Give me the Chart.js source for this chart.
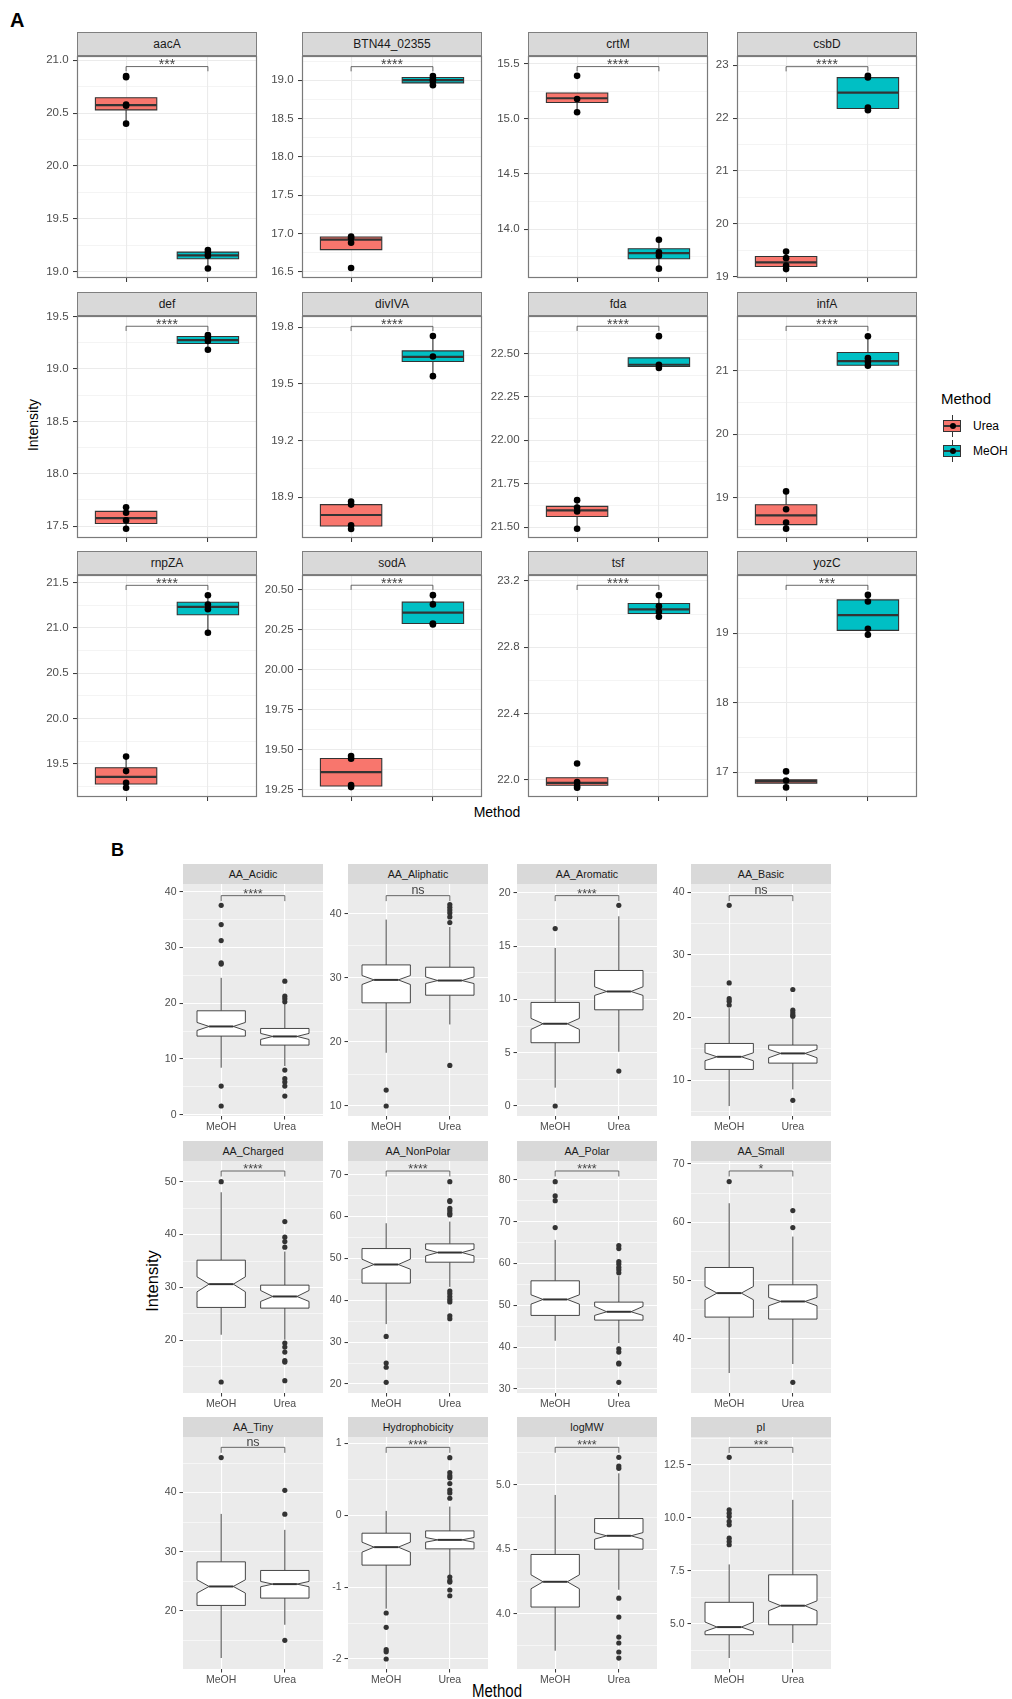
<!DOCTYPE html>
<html lang="en">
<head>
<meta charset="UTF-8">
<title>Intensity by extraction method</title>
<script src="https://cdn.jsdelivr.net/npm/chart.js"></script>
<style>
  body { margin: 0; background: #fff; font-family: 'Liberation Sans', Arial, sans-serif; }
  #page { position: relative; width: 1012px; height: 1699px; overflow: hidden; }
  .strip { position: absolute; box-sizing: border-box; display: flex; align-items: center; justify-content: center; background: #d9d9d9; color: #1a1a1a; }
  .stripA { border: 1px solid #7f7f7f; font-size: 12px; }
  .stripB { font-size: 10.7px; }
  .lbl { position: absolute; white-space: nowrap; color: #000; }
  .abs { position: absolute; box-sizing: border-box; }
</style>
</head>
<body>
<div id="page">
  <div class="lbl" style="left:10px;top:9px;font-size:20px;font-weight:bold;">A</div>
  <div class="lbl" style="left:111px;top:840px;font-size:18px;font-weight:bold;">B</div>
  <div class="lbl" style="left:33px;top:425px;font-size:14px;transform:translate(-50%,-50%) rotate(-90deg);">Intensity</div>
  <div class="lbl" style="left:497px;top:812px;font-size:14px;transform:translate(-50%,-50%);">Method</div>
  <div class="lbl" style="left:152px;top:1281px;font-size:16.5px;transform:translate(-50%,-50%) rotate(-90deg);">Intensity</div>
  <div class="lbl" style="left:497px;top:1690px;font-size:15px;transform:translate(-50%,-50%) scaleY(1.2);">Method</div>
</div>

<script>
// ---------- Panel A: individual proteins ----------
const genesA = ['aacA', 'BTN44_02355', 'crtM', 'csbD', 'def', 'divIVA', 'fda', 'infA', 'rnpZA', 'sodA', 'tsf', 'yozC'];
const methodsA = ['Urea', 'MeOH'];
const sigA = ['***', '****', '****', '****', '****', '****', '****', '****', '****', '****', '****', '***'];
const yTickLabelsA = [
    ['19.0', '19.5', '20.0', '20.5', '21.0'],
    ['16.5', '17.0', '17.5', '18.0', '18.5', '19.0'],
    ['14.0', '14.5', '15.0', '15.5'],
    ['19', '20', '21', '22', '23'],
    ['17.5', '18.0', '18.5', '19.0', '19.5'],
    ['18.9', '19.2', '19.5', '19.8'],
    ['21.50', '21.75', '22.00', '22.25', '22.50'],
    ['19', '20', '21'],
    ['19.5', '20.0', '20.5', '21.0', '21.5'],
    ['19.25', '19.50', '19.75', '20.00', '20.25', '20.50'],
    ['22.0', '22.4', '22.8', '23.2'],
    ['17', '18', '19']
];
const yLimitsA = [
    [18.94, 21.04], [16.42, 19.316], [13.557, 15.57], [18.97, 23.176],
    [17.386, 19.506], [18.683, 19.86], [21.437, 22.716], [18.366, 21.864],
    [19.134, 21.584], [19.204, 20.593], [21.896, 23.236], [16.642, 19.835]
];
// [lower whisker, Q1, median, Q3, upper whisker]
const ureaBoxA = [
    [20.40, 20.53, 20.576, 20.645, 20.645], [16.79, 16.79, 16.92, 16.955, 16.955],
    [15.06, 15.148, 15.187, 15.235, 15.235], [19.139, 19.189, 19.265, 19.378, 19.47],
    [17.475, 17.525, 17.576, 17.64, 17.68], [18.731, 18.747, 18.805, 18.86, 18.876],
    [21.49, 21.561, 21.596, 21.619, 21.655], [18.513, 18.576, 18.723, 18.89, 19.1],
    [19.236, 19.277, 19.357, 19.456, 19.58], [19.266, 19.273, 19.36, 19.445, 19.46],
    [21.952, 21.967, 21.981, 22.012, 22.012], [16.78, 16.842, 16.871, 16.89, 16.89]
];
const meohBoxA = [
    [19.03, 19.122, 19.154, 19.185, 19.204], [18.935, 18.965, 19.0, 19.035, 19.056],
    [13.642, 13.732, 13.783, 13.822, 13.904], [22.15, 22.181, 22.483, 22.767, 22.8],
    [19.183, 19.243, 19.275, 19.31, 19.325], [19.541, 19.619, 19.643, 19.675, 19.754],
    [22.416, 22.425, 22.435, 22.475, 22.475], [21.08, 21.089, 21.152, 21.288, 21.545],
    [20.947, 21.145, 21.233, 21.284, 21.361], [20.284, 20.29, 20.357, 20.423, 20.467],
    [22.984, 23.004, 23.028, 23.064, 23.114], [18.976, 19.038, 19.258, 19.477, 19.549]
];
const ureaPointsA = [
    [20.85, 20.84, 20.58, 20.57, 20.40], [16.96, 16.94, 16.88, 16.55],
    [15.39, 15.18, 15.06], [19.47, 19.346, 19.208, 19.139],
    [17.68, 17.627, 17.554, 17.475], [18.876, 18.86, 18.75, 18.731],
    [21.655, 21.613, 21.59, 21.49], [19.1, 18.82, 18.61, 18.513],
    [19.58, 19.42, 19.29, 19.236], [19.46, 19.443, 19.279, 19.266],
    [22.098, 21.986, 21.962, 21.952], [17.01, 16.88, 16.78]
];
const meohPointsA = [
    [19.204, 19.18, 19.15, 19.03], [19.056, 19.017, 18.99, 18.935],
    [13.904, 13.79, 13.759, 13.642], [22.8, 22.77, 22.2, 22.15],
    [19.325, 19.306, 19.268, 19.183], [19.754, 19.645, 19.541],
    [22.60, 22.435, 22.416], [21.545, 21.2, 21.14, 21.08],
    [21.361, 21.258, 21.207, 20.947], [20.467, 20.409, 20.29, 20.284],
    [23.114, 23.048, 23.014, 22.984], [19.549, 19.453, 19.062, 18.976]
];
const bracketA = [20.94, 19.177, 15.474, 22.974, 19.408, 19.805, 22.657, 21.702, 21.47, 20.529, 23.174, 19.687];

// ---------- Panel B: protein properties ----------
const featuresB = ['AA_Acidic', 'AA_Aliphatic', 'AA_Aromatic', 'AA_Basic', 'AA_Charged', 'AA_NonPolar',
    'AA_Polar', 'AA_Small', 'AA_Tiny', 'Hydrophobicity', 'logMW', 'pI'];
const groupsB = ['MeOH', 'Urea'];
const sigB = ['****', 'ns', '****', 'ns', '****', '****', '****', '*', 'ns', '****', '****', '***'];
const yTickLabelsB = [
    ['0', '10', '20', '30', '40'], ['10', '20', '30', '40'], ['0', '5', '10', '15', '20'], ['10', '20', '30', '40'],
    ['20', '30', '40', '50'], ['20', '30', '40', '50', '60', '70'], ['30', '40', '50', '60', '70', '80'], ['40', '50', '60', '70'],
    ['20', '30', '40'], ['-2', '-1', '0', '1'], ['4.0', '4.5', '5.0'], ['5.0', '7.5', '10.0', '12.5']
];
const yLimitsB = [
    [-0.24, 41.37], [8.44, 44.68], [-0.94, 20.84], [4.26, 41.33],
    [10.06, 53.9], [17.85, 73.26], [29.04, 84.54], [30.75, 70.51],
    [10.14, 49.41], [-2.139, 1.088], [3.571, 5.372], [2.86, 13.82]
];
// [lower whisker, Q1, notch low, median, notch high, Q3, upper whisker]
const meohBoxB = [
    [8.42, 14.09, 15.1, 15.82, 16.54, 18.63, 24.54], [18.32, 26.12, 28.98, 29.70, 30.38, 32.04, 39.12],
    [1.72, 5.94, 7.19, 7.72, 8.22, 9.72, 14.84], [5.85, 11.7, 13.09, 13.72, 14.36, 15.85, 21.5],
    [21.07, 26.23, 29.18, 30.63, 32.01, 35.16, 47.99], [34.31, 44.09, 47.42, 48.54, 49.81, 52.35, 58.39],
    [41.54, 47.6, 50.3, 51.42, 52.53, 55.88, 65.67], [34.18, 43.76, 46.73, 47.87, 49.0, 52.26, 63.27],
    [12.0, 20.9, 22.99, 24.11, 25.24, 28.28, 36.39], [-1.3, -0.694, -0.514, -0.444, -0.375, -0.25, 0.06],
    [3.713, 4.052, 4.194, 4.248, 4.302, 4.46, 4.922], [3.38, 4.48, 4.64, 4.84, 5.08, 6.01, 7.8]
];
const ureaBoxB = [
    [8.72, 12.48, 13.49, 14.03, 14.57, 15.46, 19.82], [22.74, 27.31, 29.13, 29.6, 30.17, 31.68, 37.97],
    [5.09, 9.03, 10.38, 10.75, 11.19, 12.72, 17.81], [8.51, 12.71, 13.56, 14.26, 14.9, 15.59, 19.9],
    [20.13, 26.1, 27.36, 28.3, 29.43, 30.44, 36.79], [43.2, 49.09, 50.6, 51.4, 52.19, 53.47, 58.79],
    [40.99, 46.48, 47.6, 48.47, 49.75, 50.78, 57.0], [35.72, 43.42, 45.7, 46.44, 47.13, 49.29, 57.56],
    [17.63, 22.14, 24.06, 24.51, 24.96, 26.82, 33.69], [-0.838, -0.468, -0.375, -0.343, -0.31, -0.218, 0.12],
    [4.186, 4.501, 4.579, 4.605, 4.63, 4.739, 5.09], [4.09, 4.95, 5.61, 5.85, 6.08, 7.31, 10.85]
];
const meohOutliersB = [
    [37.55, 34.09, 31.22, 27.22, 27.0, 5.13, 1.55], [12.49, 10.0], [16.66, 0], [37.93, 25.53, 23.0, 22.6, 22.0],
    [50.0, 12.14], [31.37, 25.0, 24.0, 20.4], [79.6, 76.18, 75.06, 68.61], [66.98],
    [45.92], [-1.36, -1.56, -1.87, -1.9, -2.0], [], [12.86, 10.38, 10.22, 10.06, 9.83, 9.67, 9.04, 8.88, 8.73]
];
const ureaOutliersB = [
    [23.94, 21.25, 20.78, 20.24, 8.0, 6.45, 5.85, 5.13, 3.34],
    [41.46, 41.04, 40.62, 40.16, 39.53, 38.65, 16.34],
    [18.84, 3.28],
    [24.47, 21.17, 20.74, 20.4, 20.21, 6.76],
    [42.45, 39.5, 38.68, 37.61, 19.5, 18.74, 17.8, 16.16, 15.9, 12.39],
    [68.33, 63.8, 63.56, 61.97, 61.4, 60.78, 60.38, 42.2, 41.6, 40.9, 40.2, 39.6, 36.3, 35.6],
    [64.3, 63.6, 60.5, 59.9, 59.1, 58.5, 57.8, 39.63, 38.84, 36.2, 36.0, 31.59],
    [62.01, 59.1, 32.58],
    [40.39, 36.34, 14.99],
    [0.80, 0.593, 0.55, 0.52, 0.44, 0.35, 0.31, 0.236, -0.86, -0.91, -0.93, -1.04, -1.12],
    [5.214, 5.147, 5.129, 4.121, 3.974, 3.819, 3.773, 3.703, 3.656],
    []
];
const bracketB = [39.28, 42.86, 19.75, 39.47, 52.01, 70.87, 82.15, 68.8, 47.66, 0.944, 5.292, 13.33];

// ---------- layout ----------
const A_COLS = [77, 302, 528, 737], A_W = 180;
const A_STRIP_TOPS = [32, 292, 551], A_STRIP_H = 24, A_PLOT_H = 222;
const B_COLS = [183, 348, 517, 691], B_W = 140;
const B_STRIP_TOPS = [864, 1141, 1417], B_STRIP_H = 20, B_PLOT_H = 232;
const FILLS_A = ['#F8766D', '#00BFC4'];
const PAD_T = 12, PAD_R = 6;

Chart.defaults.font.family = "'Liberation Sans', Arial, sans-serif";

function gridTicks(labels, lim) {
    const major = labels.map(s => parseFloat(s));
    const step = major[1] - major[0];
    const out = major.map((v, i) => ({ value: v, lab: labels[i] }));
    for (let k = -1; k < major.length; k++) {
        const m = k < 0 ? major[0] - step / 2 : major[k] + step / 2;
        if (m > lim[0] && m < lim[1]) out.push({ value: m, minor: true });
    }
    return out.sort((a, b) => a.value - b.value);
}

const boxPlugin = {
    id: 'boxes',
    beforeDraw(chart, args, o) {
        if (!o.panelBg) return;
        const a = chart.chartArea, ctx = chart.ctx;
        ctx.save();
        ctx.fillStyle = o.panelBg;
        ctx.fillRect(a.left, a.top, a.right - a.left, a.bottom - a.top);
        ctx.restore();
    },
    beforeDatasetsDraw(chart, args, o) {
        const ctx = chart.ctx, xs = chart.scales.x, ys = chart.scales.y;
        const Y = v => ys.getPixelForValue(v);
        o.boxes.forEach((b, i) => {
            const c = i + 1;
            const x0 = xs.getPixelForValue(c - o.width / 2), x1 = xs.getPixelForValue(c + o.width / 2);
            const xc = xs.getPixelForValue(c);
            const notch = b.length === 7;
            const [lo, q1, nlo, med, nhi, q3, hi] = notch ? b : [b[0], b[1], null, b[2], null, b[3], b[4]];
            ctx.save();
            ctx.strokeStyle = '#333';
            ctx.lineWidth = o.lw;
            ctx.beginPath();
            ctx.moveTo(xc, Y(q3)); ctx.lineTo(xc, Y(hi));
            ctx.moveTo(xc, Y(q1)); ctx.lineTo(xc, Y(lo));
            ctx.stroke();
            const ind = notch ? (x1 - x0) * 0.25 : 0;
            ctx.beginPath();
            if (notch) {
                ctx.moveTo(x0, Y(q3)); ctx.lineTo(x0, Y(nhi)); ctx.lineTo(x0 + ind, Y(med));
                ctx.lineTo(x0, Y(nlo)); ctx.lineTo(x0, Y(q1)); ctx.lineTo(x1, Y(q1));
                ctx.lineTo(x1, Y(nlo)); ctx.lineTo(x1 - ind, Y(med)); ctx.lineTo(x1, Y(nhi));
                ctx.lineTo(x1, Y(q3)); ctx.closePath();
            } else {
                ctx.rect(x0, Y(q3), x1 - x0, Y(q1) - Y(q3));
            }
            ctx.fillStyle = o.fills[i];
            ctx.fill();
            ctx.stroke();
            ctx.lineWidth = o.medLw;
            ctx.beginPath();
            ctx.moveTo(x0 + ind, Y(med)); ctx.lineTo(x1 - ind, Y(med));
            ctx.stroke();
            ctx.restore();
        });
    },
    afterDatasetsDraw(chart, args, o) {
        const ctx = chart.ctx, a = chart.chartArea, xs = chart.scales.x, ys = chart.scales.y;
        ctx.save();
        if (o.border) {
            ctx.strokeStyle = o.border;
            ctx.lineWidth = 1.2;
            ctx.strokeRect(a.left + 0.5, a.top + 0.5, a.right - a.left - 1, a.bottom - a.top - 1);
        }
        const yb = ys.getPixelForValue(o.bracket);
        const xa = xs.getPixelForValue(1), xb = xs.getPixelForValue(2);
        ctx.strokeStyle = '#444';
        ctx.lineWidth = 0.8;
        ctx.beginPath();
        ctx.moveTo(xa, yb + o.tip); ctx.lineTo(xa, yb); ctx.lineTo(xb, yb); ctx.lineTo(xb, yb + o.tip);
        ctx.stroke();
        ctx.font = o.sigFont;
        ctx.fillStyle = '#444';
        ctx.textAlign = 'center';
        ctx.textBaseline = 'alphabetic';
        const m = ctx.measureText(o.sig);
        const yc = yb - (o.sig === 'ns' ? 5 : 4.5);
        ctx.fillText(o.sig, (xa + xb) / 2, yc + (m.actualBoundingBoxAscent - m.actualBoundingBoxDescent) / 2);
        ctx.restore();
    }
};

function drawPanel(p) {
    const page = document.getElementById('page');
    const plotTop = p.stripTop + p.stripH;
    const cv = document.createElement('canvas');
    const cw = p.axisW + p.w + PAD_R, ch = PAD_T + p.h + p.xH;
    cv.width = cw; cv.height = ch;
    cv.style.cssText = `position:absolute;left:${p.left - p.axisW}px;top:${plotTop - PAD_T}px;width:${cw}px;height:${ch}px`;
    page.appendChild(cv);

    const strip = document.createElement('div');
    strip.className = 'strip ' + p.stripClass;
    Object.assign(strip.style, { left: p.left + 'px', top: p.stripTop + 'px', width: p.w + 'px', height: p.stripH + 'px' });
    strip.textContent = p.title;
    page.appendChild(strip);

    const ticks = gridTicks(p.tickLabels, p.lim);
    new Chart(cv, {
        type: 'scatter',
        data: {
            datasets: [{
                data: p.points,
                pointRadius: p.ptR, pointHoverRadius: p.ptR, pointBorderWidth: 0,
                pointBackgroundColor: p.ptColor
            }]
        },
        options: {
            responsive: false, animation: false, events: [],
            layout: { padding: { top: PAD_T, right: PAD_R, left: 0, bottom: 0 } },
            plugins: {
                legend: { display: false }, tooltip: { enabled: false },
                boxes: p.boxOpts
            },
            scales: {
                x: {
                    type: 'linear', min: 0.4, max: 2.6, bounds: 'data',
                    afterBuildTicks: s => { s.ticks = [{ value: 1 }, { value: 2 }]; },
                    afterFit: s => { s.height = p.xH; },
                    ticks: {
                        autoSkip: false, maxRotation: 0, padding: 1, color: '#4d4d4d',
                        font: { size: p.tickSize },
                        callback: v => p.xLabels ? p.xLabels[Math.round(v) - 1] : ''
                    },
                    grid: { color: p.gridColor, lineWidth: 1.1, tickLength: p.tickLen, tickColor: '#333', tickWidth: 1 },
                    border: { display: false }
                },
                y: {
                    type: 'linear', min: p.lim[0], max: p.lim[1], bounds: 'data',
                    afterBuildTicks: s => { s.ticks = ticks.map(t => Object.assign({}, t)); },
                    afterFit: s => { s.width = p.axisW; },
                    ticks: {
                        autoSkip: false, padding: p.tickPad, color: '#4d4d4d',
                        font: { size: p.tickSize },
                        callback: (v, i, t) => t[i].lab || ''
                    },
                    grid: {
                        color: p.gridColor,
                        lineWidth: c => (c.tick && c.tick.minor) ? 0.55 : 1.1,
                        tickLength: p.tickLen,
                        tickWidth: 1,
                        tickColor: c => (c.tick && c.tick.minor) ? 'rgba(0,0,0,0)' : '#333'
                    },
                    border: { display: false }
                }
            }
        },
        plugins: [boxPlugin]
    });
}

// Panel A panels
genesA.forEach((g, i) => {
    const pts = [];
    ureaPointsA[i].forEach(v => pts.push({ x: 1, y: v }));
    meohPointsA[i].forEach(v => pts.push({ x: 2, y: v }));
    drawPanel({
        title: g, stripClass: 'stripA',
        left: A_COLS[i % 4], w: A_W, stripTop: A_STRIP_TOPS[Math.floor(i / 4)], stripH: A_STRIP_H, h: A_PLOT_H,
        axisW: 50, xH: 16, tickLen: 4, tickPad: 4.4, tickSize: 11.5,
        lim: yLimitsA[i], tickLabels: yTickLabelsA[i], xLabels: null,
        gridColor: '#ebebeb', points: pts, ptR: 3.3, ptColor: '#000',
        boxOpts: {
            boxes: [ureaBoxA[i], meohBoxA[i]], fills: FILLS_A, width: 0.75, lw: 1.1, medLw: 2.2,
            border: '#7a7a7a', panelBg: null, bracket: bracketA[i], sig: sigA[i], tip: 4.7,
            sigFont: '14px "Liberation Sans", Arial, sans-serif'
        }
    });
});

// Panel B panels
featuresB.forEach((f, i) => {
    const pts = [];
    meohOutliersB[i].forEach(v => pts.push({ x: 1, y: v }));
    ureaOutliersB[i].forEach(v => pts.push({ x: 2, y: v }));
    drawPanel({
        title: f, stripClass: 'stripB',
        left: B_COLS[i % 4], w: B_W, stripTop: B_STRIP_TOPS[Math.floor(i / 4)], stripH: B_STRIP_H, h: B_PLOT_H,
        axisW: 40, xH: 18, tickLen: 3.5, tickPad: 3, tickSize: 10.5,
        lim: yLimitsB[i], tickLabels: yTickLabelsB[i], xLabels: groupsB,
        gridColor: '#ffffff', points: pts, ptR: 2.6, ptColor: '#333',
        boxOpts: {
            boxes: [meohBoxB[i], ureaBoxB[i]], fills: ['#ffffff', '#ffffff'], width: 0.76, lw: 0.9, medLw: 2,
            border: null, panelBg: '#ebebeb', bracket: bracketB[i], sig: sigB[i], tip: 5.5,
            sigFont: '12.5px "Liberation Sans", Arial, sans-serif'
        }
    });
});

// Legend for panel A
(function () {
    const page = document.getElementById('page');
    const title = document.createElement('div');
    title.className = 'lbl';
    Object.assign(title.style, { left: '941px', top: '390px', fontSize: '15px' });
    title.textContent = 'Method';
    page.appendChild(title);
    methodsA.forEach((m, k) => {
        const cy = 426 + k * 25;
        const parts = [
            { left: 952, top: cy - 11, width: 1, height: 22, background: '#333' },
            { left: 943, top: cy - 6, width: 18, height: 12, background: FILLS_A[k], border: '1px solid #333' },
            { left: 944, top: cy - 1, width: 16, height: 2, background: '#333' },
            { left: 949.5, top: cy - 3, width: 6, height: 6, background: '#000', borderRadius: '50%' }
        ];
        parts.forEach(s => {
            const d = document.createElement('div');
            d.className = 'abs';
            Object.assign(d.style, {
                left: s.left + 'px', top: s.top + 'px', width: s.width + 'px', height: s.height + 'px',
                background: s.background, border: s.border || 'none', borderRadius: s.borderRadius || '0'
            });
            page.appendChild(d);
        });
        const t = document.createElement('div');
        t.className = 'lbl';
        Object.assign(t.style, { left: '973px', top: (cy - 7) + 'px', fontSize: '12px' });
        t.textContent = m;
        page.appendChild(t);
    });
})();
</script>
</body>
</html>
